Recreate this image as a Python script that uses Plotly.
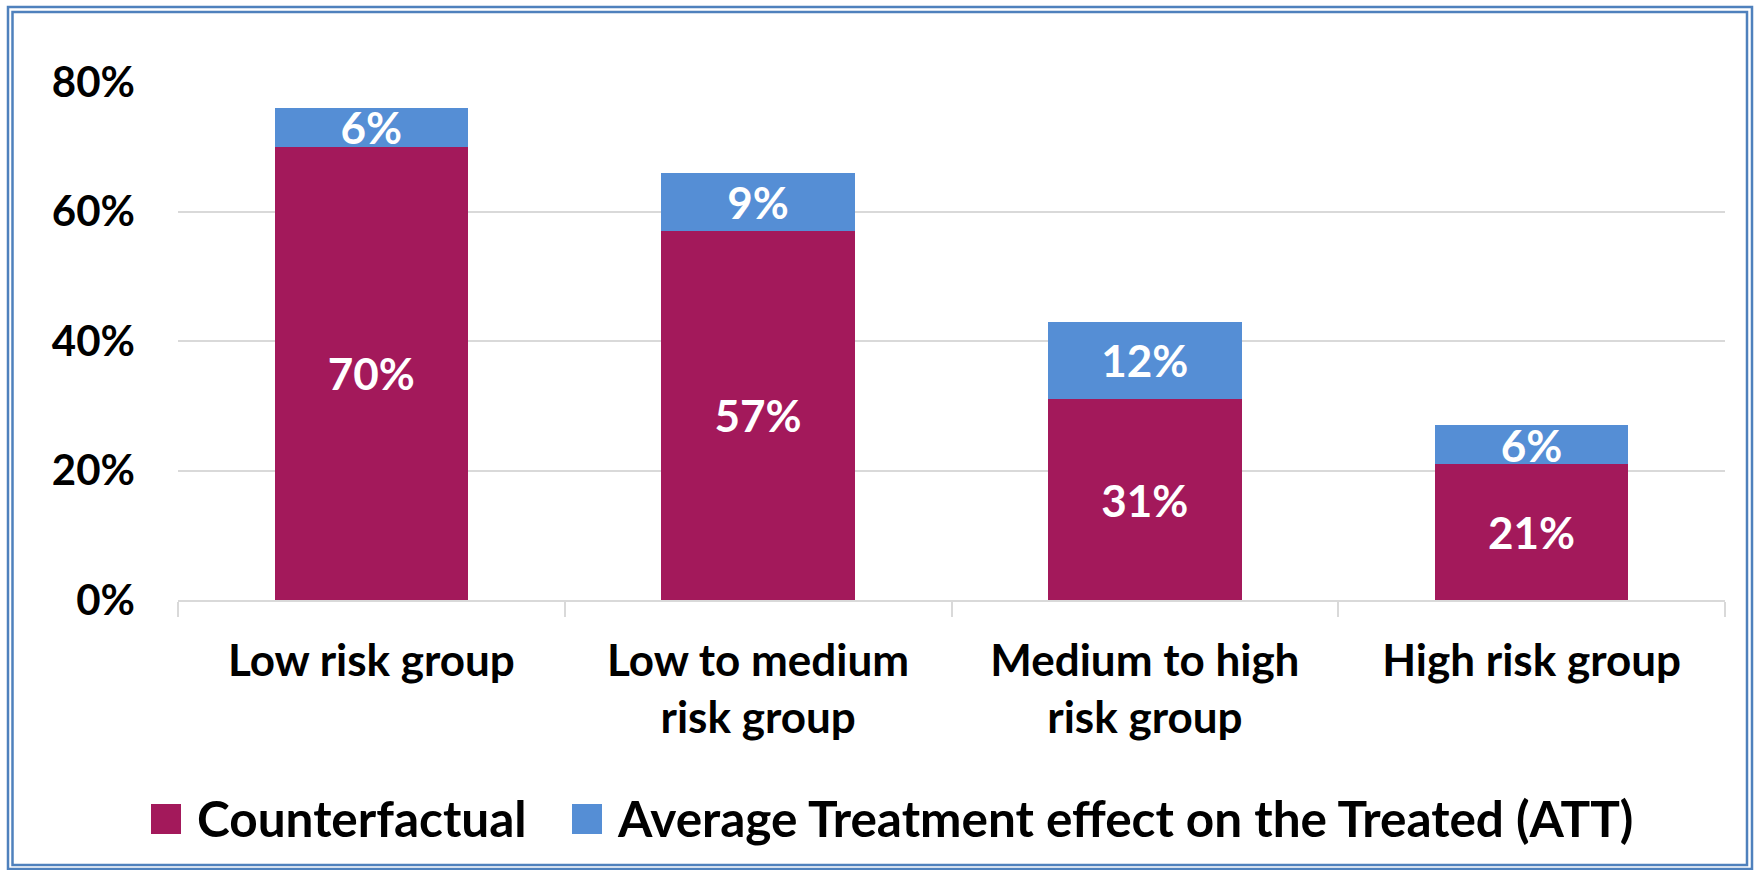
import plotly.graph_objects as go

# Risk groups and their stacked shares
groups = ["Low risk group", "Low to medium<br>risk group",
          "Medium to high<br>risk group", "High risk group"]
counterfactual = [0.70, 0.57, 0.31, 0.21]
att = [0.06, 0.09, 0.12, 0.06]
series_names = ["Counterfactual", "Average Treatment effect on the Treated (ATT)"]
y_ticks = [0, 0.2, 0.4, 0.6, 0.8]

COL_CF = "#A3195B"
COL_ATT = "#558ED5"
GRID = "#D9D9D9"
FONT = "Lato"
W, H = 1754, 870
ML, MR, MT, MB = 178, 29, 82, 270

fig = go.Figure()
for name, vals, col in [(series_names[0], counterfactual, COL_CF),
                        (series_names[1], att, COL_ATT)]:
    fig.add_trace(go.Bar(
        x=groups, y=vals, name=name, marker=dict(color=col, line=dict(width=0)),
        text=vals, texttemplate="%{y:.0%}", textposition="inside",
        insidetextanchor="middle", constraintext="none",
        textfont=dict(family=FONT, size=44, color="white", weight="bold"),
        showlegend=False, width=0.5,
    ))

fig.update_layout(
    width=W, height=H, barmode="stack",
    margin=dict(l=ML, r=MR, t=MT, b=MB),
    paper_bgcolor="white", plot_bgcolor="white",
    font=dict(family=FONT, color="black"),
    xaxis=dict(
        type="category", tickson="boundaries", ticks="outside", ticklen=15,
        tickwidth=2, tickcolor=GRID, showline=True, linecolor=GRID, linewidth=2,
        showgrid=False, tickfont=dict(family=FONT, size=44, weight="bold"),
        ticklabelstandoff=21,
    ),
    # inner half of the crossing boundary ticks
    xaxis2=dict(
        overlaying="x", anchor="y", side="bottom", range=[-0.5, 3.5],
        tickvals=[-0.5, 0.5, 1.5, 2.5, 3.5], ticks="inside", ticklen=15,
        tickwidth=2, tickcolor=GRID, showticklabels=False, showgrid=False,
        zeroline=False, showline=False,
    ),
    yaxis=dict(
        range=[0, 0.8], tickvals=y_ticks, tickformat=".0%", showgrid=True,
        gridcolor=GRID, gridwidth=2, zeroline=False, showline=False, ticks="",
        tickfont=dict(family=FONT, size=42, weight="bold"),
        ticklabelstandoff=42,
    ),
)


def px_x(p):
    return (p - ML) / (W - ML - MR)


def px_y(p):
    return (H - MB - p) / (H - MT - MB)


# Legend drawn as swatches and labels beneath the axis
legend_items = [(151, 195, COL_CF, series_names[0]),
                (572, 615, COL_ATT, series_names[1])]
for sx, tx, col, label in legend_items:
    fig.add_shape(type="rect", xref="paper", yref="paper",
                  x0=px_x(sx), x1=px_x(sx + 30), y0=px_y(834), y1=px_y(804),
                  fillcolor=col, line=dict(width=0))
    fig.add_annotation(xref="paper", yref="paper", x=px_x(tx), y=px_y(818),
                       xanchor="left", yanchor="middle", showarrow=False,
                       text=label, font=dict(family=FONT, size=49.5, weight="bold"))

# Double frame around the chart
for x0, y0, x1, y1 in [(8, 7, 1752, 869), (12.5, 12, 1747, 865)]:
    fig.add_shape(type="rect", xref="paper", yref="paper",
                  x0=px_x(x0), x1=px_x(x1), y0=px_y(y1), y1=px_y(y0),
                  line=dict(color="#4F81BD", width=2.5), fillcolor="rgba(0,0,0,0)")

fig.write_html("out.html")
